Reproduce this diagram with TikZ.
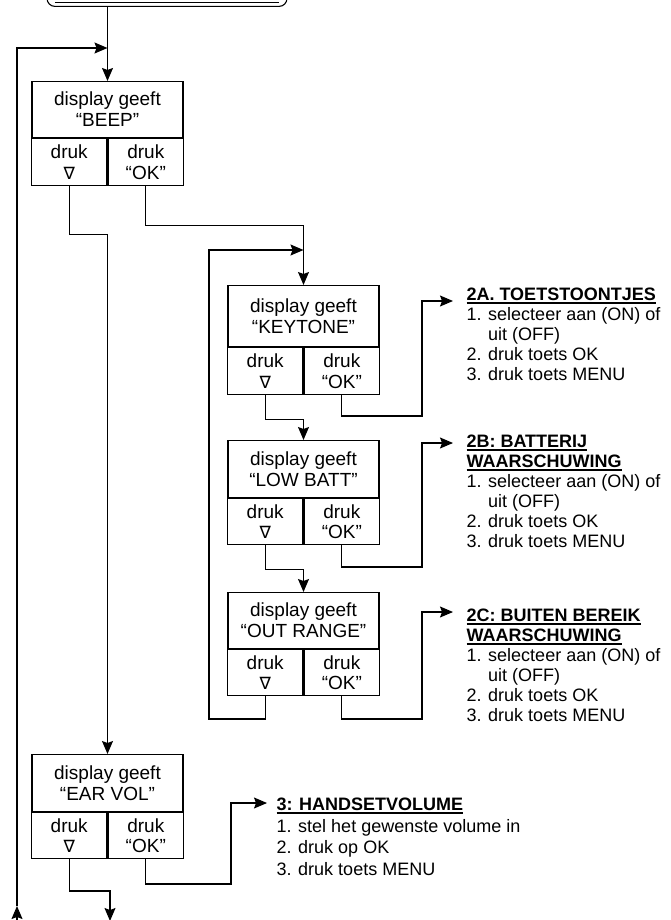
\documentclass[tikz,border=0pt]{standalone}
\usepackage{fontspec}
\setmainfont{Liberation Sans}
\newfontfamily\symf{DejaVu Sans}
\usetikzlibrary{arrows.meta}
\newcommand\ulx[1]{\setbox0\hbox{#1}\rlap{\raisebox{-3.4pt}{\rule{\wd0}{1.6pt}}}\box0}
\newcommand\nab{{\symf\fontsize{17}{17}\selectfont ∇}}
\tikzset{
  upper/.style={draw, minimum width=151pt, inner sep=0pt, align=center, anchor=north,
    font=\fontsize{19}{21}\selectfont},
  cell/.style={draw, minimum width=75.5pt, inner sep=0pt, align=center,
    font=\fontsize{19}{20.5}\selectfont},
  info/.style={anchor=north west, inner sep=0pt, align=left,
    font=\fontsize{18}{20}\selectfont},
  arr/.style={-{Stealth[length=13pt,width=11pt,inset=2pt]}},
}
\newcommand\mkbox[6]{%
  \node[upper, minimum height=#4pt] (#1) at (#2,#3) {display geeft\\“#6”};
  \node[cell, minimum height=#5pt, anchor=north east] (#1L) at (#1.south) {druk\\\nab};
  \node[cell, minimum height=#5pt, anchor=north west] (#1R) at (#1.south) {druk\\“OK”};
}
\begin{document}
\begin{tikzpicture}[x=1pt, y=-1pt, line width=1.1pt]
\useasboundingbox (0,0) rectangle (670,920);

% start node (mostly cut off by the page edge)
\node[draw, rounded corners=8pt, minimum width=240pt, minimum height=22pt, inner sep=0pt,
  anchor=base, font=\fontsize{18}{20}\selectfont] (start) at (167,0)
  {\ulx{\textbf{INSTELLINGEN HANDSET}}};

% boxes
\mkbox{beep}{107.5}{81}{56}{47}{BEEP}
\mkbox{key}{303.5}{285}{61}{47}{KEYTONE}
\mkbox{low}{303.5}{440}{57}{46}{LOW BATT}
\mkbox{out}{303.5}{592}{56}{46}{OUT RANGE}
\mkbox{ear}{107.5}{754}{57}{46}{EAR VOL}

% text blocks
\node[info] (t2a) at (466,286) {\strut\ulx{\textbf{2A. TOETSTOONTJES}}\\
  1. selecteer aan (ON) of\\\phantom{1. }uit (OFF)\\2. druk toets OK\\3. druk toets MENU};
\node[info] (t2b) at (466,433) {\strut\ulx{\textbf{2B: BATTERIJ}}\\\ulx{\textbf{WAARSCHUWING}}\\
  1. selecteer aan (ON) of\\\phantom{1. }uit (OFF)\\2. druk toets OK\\3. druk toets MENU};
\node[info] (t2c) at (466,607) {\strut\ulx{\textbf{2C: BUITEN BEREIK}}\\\ulx{\textbf{WAARSCHUWING}}\\
  1. selecteer aan (ON) of\\\phantom{1. }uit (OFF)\\2. druk toets OK\\3. druk toets MENU};
\node[info, font=\fontsize{18}{21.5}\selectfont] (t3) at (276,795) {\strut\ulx{\textbf{3: HANDSETVOLUME}}\\
  1. stel het gewenste volume in\\2. druk op OK\\3. druk toets MENU};

% helper coordinates
\coordinate (lb) at (17,921);
\coordinate (lt) at (17,906);
\coordinate (j1) at (107.5,48);
\coordinate (j2) at (209,719);
\coordinate (j3) at (303.5,250);
\coordinate (k1) at (422,416);
\coordinate (k2) at (422,567);
\coordinate (k3) at (422,719);
\coordinate (a2a) at (453,301);
\coordinate (a2b) at (453,443);
\coordinate (a2c) at (453,612);
\coordinate (e1) at (110,891);
\coordinate (e2) at (110,921);
\coordinate (e3) at (231,884);
\coordinate (a3) at (267,803);

% connectors
\draw[arr] (beep.north |- start.south) -- (beep.north);
\draw[arr] (lb) -- (lt);
\draw[arr] (lt) |- (j1);
\draw[arr] (beepL.south) -- ++(0,48) -| (ear.north);
\draw[arr] (beepR.south) -- ++(0,39) -| (key.north);
\draw[arr] (outL.south) |- (j2) |- (j3);
\draw[arr] (keyL.south) -- ++(0,24) -| (low.north);
\draw[arr] (lowL.south) -- ++(0,24) -| (out.north);
\draw[arr] (keyR.south) |- (k1) |- (a2a);
\draw[arr] (lowR.south) |- (k2) |- (a2b);
\draw[arr] (outR.south) |- (k3) |- (a2c);
\draw[arr] (earL.south) |- (e1) -- (e2);
\draw[arr] (earR.south) |- (e3) |- (a3);
\end{tikzpicture}
\end{document}
